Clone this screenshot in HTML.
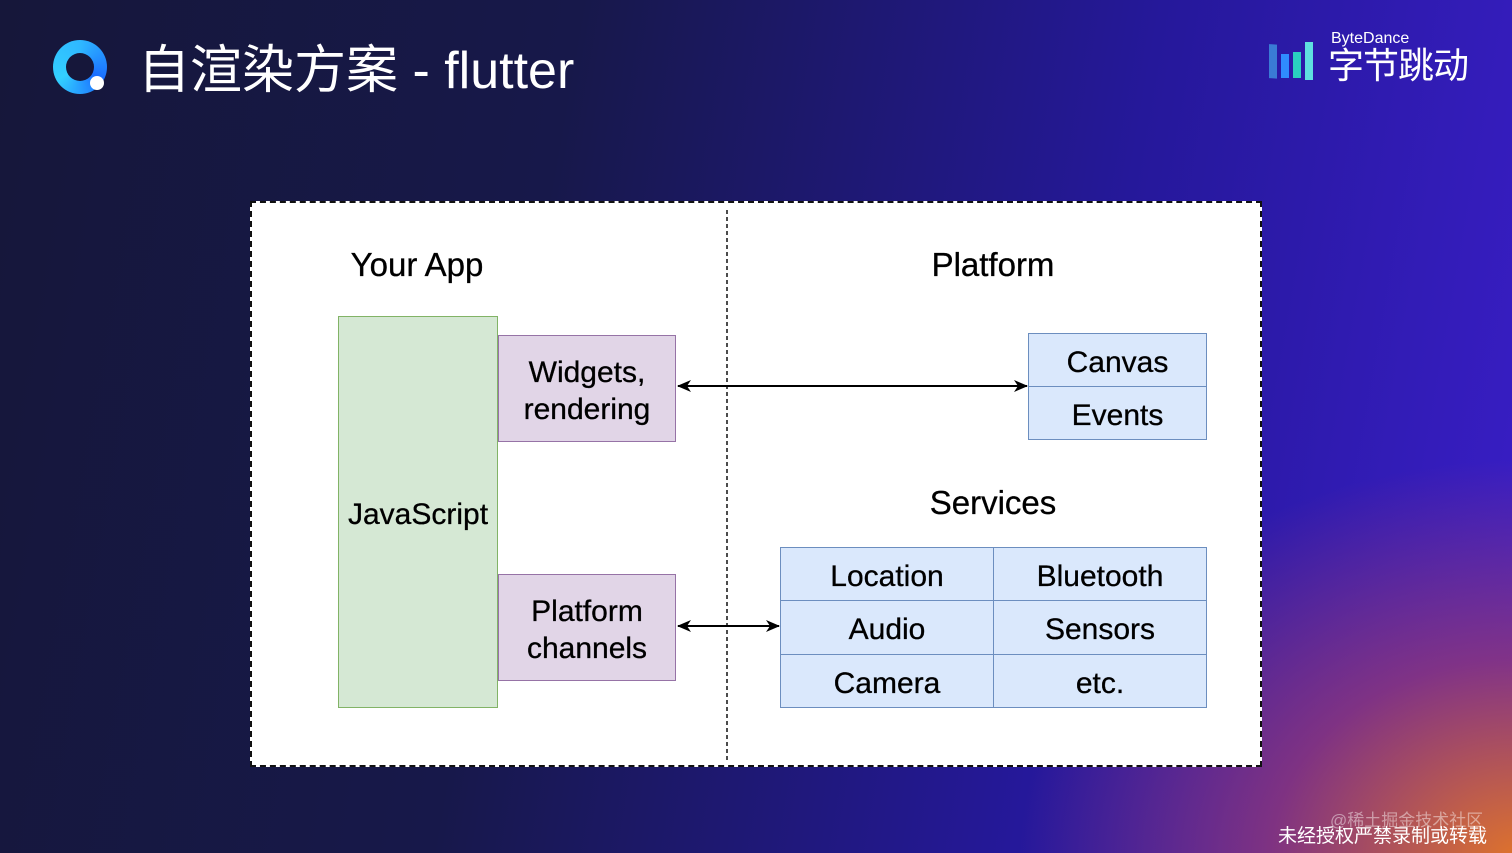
<!DOCTYPE html>
<html><head><meta charset="utf-8"><style>
body{margin:0;width:1512px;height:853px;overflow:hidden;position:relative;font-family:"Liberation Sans","Noto Sans CJK SC",sans-serif;
background:radial-gradient(ellipse 500px 400px at 1520px 860px,#e0742a 0%,rgba(160,60,110,0.7) 50%,rgba(0,0,0,0) 100%),
linear-gradient(100deg,#16173a 0%,#17184a 35%,#25189a 70%,#3a1ec8 100%);}
.a{position:absolute}
.t{position:absolute;display:flex;align-items:center;justify-content:center;text-align:center;font-size:30px;color:#000;line-height:37px;box-sizing:border-box;padding-top:4px;-webkit-text-stroke:0.3px #000}
</style></head><body>
<div class="a" style="left:53px;top:40px;width:54px;height:54px;border-radius:50%;background:conic-gradient(#2fb8ff,#1a6dff,#33d0ff,#2fb8ff)"></div>
<div class="a" style="left:66px;top:53px;width:28px;height:28px;border-radius:50%;background:#16173a"></div>
<div class="a" style="left:90px;top:76px;width:14px;height:14px;border-radius:50%;background:#fff"></div>
<div class="a" style="left:138px;top:28px;font-size:52px;color:#fff;white-space:nowrap">自渲染方案 - flutter</div>
<svg class="a" style="left:1268px;top:40px" width="50" height="42"><rect x="1" y="4" width="8" height="34" fill="#3a7bd5" transform="skewY(4)"/><rect x="13" y="14" width="8" height="24" fill="#2f8cff"/><rect x="25" y="12" width="8" height="26" fill="#2ad0c0"/><rect x="37" y="2" width="8" height="38" fill="#5fe0e0"/></svg>
<div class="a" style="left:1331px;top:30px;font-size:16px;color:#fff">ByteDance</div>
<div class="a" style="left:1328px;top:46px;font-size:36px;color:#fff;letter-spacing:-1px;line-height:40px">字节跳动</div>
<div class="a" style="left:1330px;top:806px;font-size:17px;color:rgba(255,255,255,0.45)">@稀土掘金技术社区</div>
<div class="a" style="left:1278px;top:821px;font-size:19px;color:#fff">未经授权严禁录制或转载</div>

<div class="a" style="left:250px;top:201px;width:1008px;height:562px;background:#fff;border:2px dashed #111"></div>
<svg class="a" style="left:0;top:0" width="1512" height="853">
<line x1="727" y1="210" x2="727" y2="760" stroke="#111" stroke-width="1.5" stroke-dasharray="4,3"/>
<defs><marker id="m" markerWidth="14" markerHeight="14" refX="13" refY="7" orient="auto-start-reverse" markerUnits="userSpaceOnUse"><path d="M0,1 L14,7 L0,13 L4,7z" fill="#000"/></marker></defs>
<line x1="678" y1="386" x2="1027" y2="386" stroke="#000" stroke-width="2" marker-start="url(#m)" marker-end="url(#m)"/>
<line x1="678" y1="626" x2="779" y2="626" stroke="#000" stroke-width="2" marker-start="url(#m)" marker-end="url(#m)"/>
</svg>
<div class="t" style="left:317px;top:242px;width:200px;height:40px;font-size:33px">Your App</div>
<div class="t" style="left:893px;top:242px;width:200px;height:40px;font-size:33px">Platform</div>
<div class="t" style="left:893px;top:480px;width:200px;height:40px;font-size:33px">Services</div>
<div class="t" style="left:338px;top:316px;width:160px;height:392px;background:#d5e8d4;border:1.5px solid #82b366">JavaScript</div>
<div class="t" style="left:498px;top:335px;width:178px;height:107px;background:#e1d5e7;border:1.5px solid #9673a6">Widgets,<br>rendering</div>
<div class="t" style="left:498px;top:574px;width:178px;height:107px;background:#e1d5e7;border:1.5px solid #9673a6">Platform<br>channels</div>
<div class="t" style="left:1028px;top:333px;width:179px;height:54px;background:#dae8fc;border:1.5px solid #6c8ebf">Canvas</div>
<div class="t" style="left:1028px;top:386px;width:179px;height:54px;background:#dae8fc;border:1.5px solid #6c8ebf">Events</div>
<div class="t" style="left:780px;top:547px;width:214px;height:54px;background:#dae8fc;border:1.5px solid #6c8ebf">Location</div>
<div class="t" style="left:993px;top:547px;width:214px;height:54px;background:#dae8fc;border:1.5px solid #6c8ebf">Bluetooth</div>
<div class="t" style="left:780px;top:600px;width:214px;height:55px;background:#dae8fc;border:1.5px solid #6c8ebf">Audio</div>
<div class="t" style="left:993px;top:600px;width:214px;height:55px;background:#dae8fc;border:1.5px solid #6c8ebf">Sensors</div>
<div class="t" style="left:780px;top:654px;width:214px;height:54px;background:#dae8fc;border:1.5px solid #6c8ebf">Camera</div>
<div class="t" style="left:993px;top:654px;width:214px;height:54px;background:#dae8fc;border:1.5px solid #6c8ebf">etc.</div>
</body></html>
